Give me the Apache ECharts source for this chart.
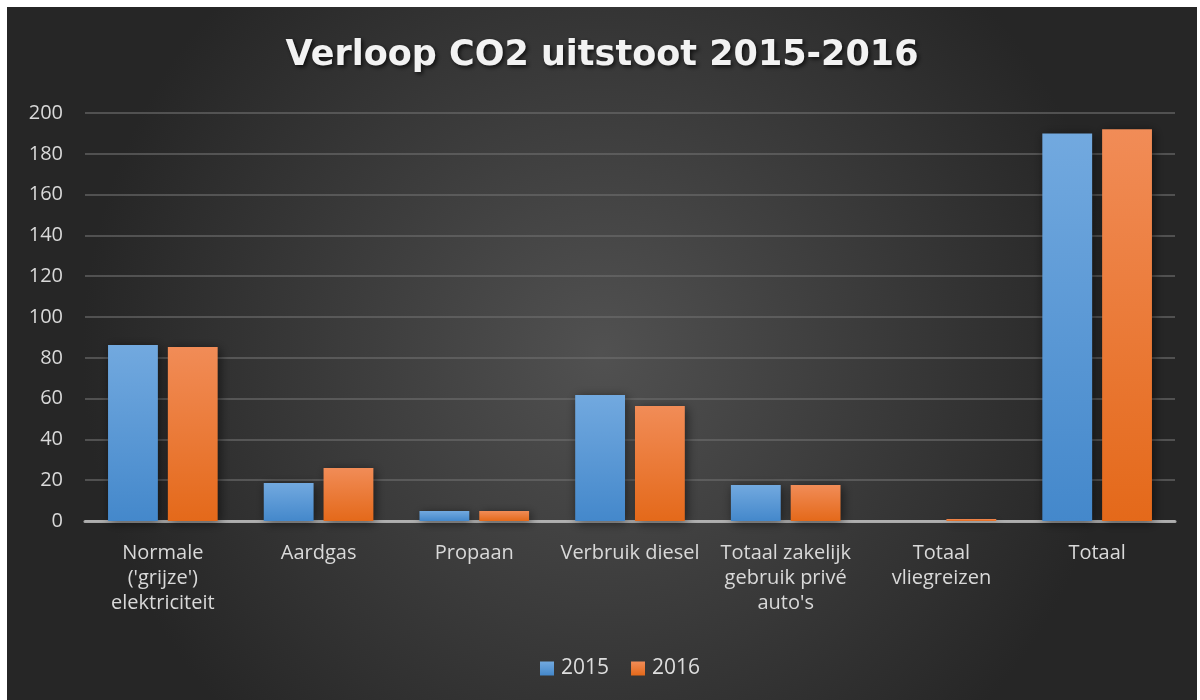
<!DOCTYPE html>
<html>
<head>
<meta charset="utf-8">
<script src="https://cdn.jsdelivr.net/npm/echarts@6/dist/echarts.min.js"></script>
<style>
html,body{margin:0;padding:0;background:#fff;width:1200px;height:700px;overflow:hidden;}
#chart{position:absolute;left:7px;top:7px;width:1190px;height:693px;}
</style>
</head>
<body>
<div id="chart"></div>
<script>
const titleText = "Verloop CO2 uitstoot 2015-2016";
const categories = ["Normale\n('grijze')\nelektriciteit", "Aardgas", "Propaan", "Verbruik diesel", "Totaal zakelijk\ngebruik privé\nauto's", "Totaal\nvliegreizen", "Totaal"];
const seriesNames = ["2015", "2016"];
const values2015 = [86.3, 18.6, 4.9, 61.8, 17.6, 0, 190];
const values2016 = [85.3, 26.0, 4.9, 56.4, 17.6, 1.0, 192];
const yTicks = {min: 0, max: 200, interval: 20};

const chart = echarts.init(document.getElementById('chart'), null, {renderer: 'canvas'});
function grad(top, bottom) {
  return {type: 'linear', x: 0, y: 0, x2: 0, y2: 1, colorStops: [{offset: 0, color: top}, {offset: 1, color: bottom}]};
}
const fontFam = "'Open Sans', 'Liberation Sans', sans-serif";
chart.setOption({
  animation: false,
  backgroundColor: {type: 'radial', x: 0.5, y: 0.5, r: 0.75, colorStops: [{offset: 0, color: '#515151'}, {offset: 1, color: '#262626'}]},
  title: {
    text: titleText, left: 'center', top: 26,
    textStyle: {color: '#f2f2f2', fontSize: 35, fontWeight: 'bold', fontFamily: "'DejaVu Sans', sans-serif",
      textShadowColor: 'rgba(0,0,0,0.7)', textShadowBlur: 4, textShadowOffsetX: 2, textShadowOffsetY: 2}
  },
  legend: {
    data: seriesNames, bottom: 16, left: 528, itemWidth: 14, itemHeight: 14, itemGap: 22, icon: 'rect',
    textStyle: {color: '#dedede', fontSize: 21, fontFamily: fontFam, padding: [0, 0, 0, 2]}
  },
  grid: {left: 78, right: 22, top: 106, bottom: 179},
  xAxis: {
    type: 'category', data: categories,
    axisLine: {lineStyle: {color: 'rgba(190,190,190,0.85)', width: 3}},
    axisTick: {show: false},
    axisLabel: {color: '#d9d9d9', fontSize: 20, fontFamily: fontFam, lineHeight: 25, margin: 20, interval: 0}
  },
  yAxis: {
    type: 'value', min: yTicks.min, max: yTicks.max, interval: yTicks.interval,
    axisLine: {show: false}, axisTick: {show: false},
    axisLabel: {color: '#d9d9d9', fontSize: 20, fontFamily: fontFam, margin: 22},
    splitLine: {lineStyle: {color: 'rgba(110,110,110,0.6)', width: 2}}
  },
  series: [
    {name: seriesNames[0], type: 'bar', data: values2015, barWidth: '32%', barGap: '20%',
      itemStyle: {color: grad('#72a9df', '#4488cb'), shadowBlur: 10, shadowColor: 'rgba(0,0,0,0.55)', shadowOffsetX: 2, shadowOffsetY: 2}},
    {name: seriesNames[1], type: 'bar', data: values2016, barWidth: '32%',
      itemStyle: {color: grad('#f18c57', '#e4691a'), shadowBlur: 10, shadowColor: 'rgba(0,0,0,0.55)', shadowOffsetX: 2, shadowOffsetY: 2}}
  ]
});
</script>
</body>
</html>
